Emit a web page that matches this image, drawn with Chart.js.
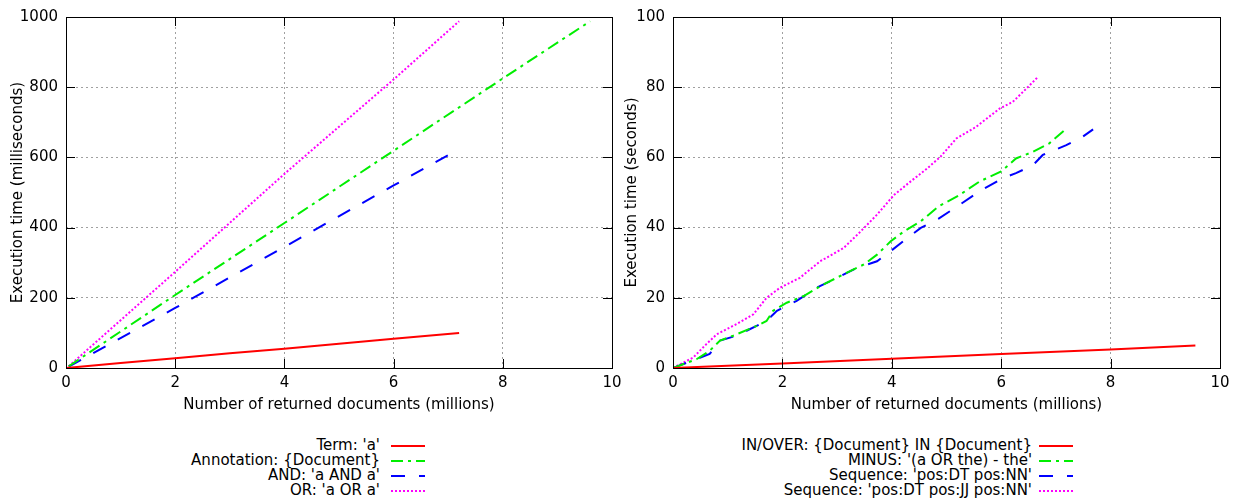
<!DOCTYPE html>
<html>
<head>
<meta charset="utf-8">
<script src="https://cdn.jsdelivr.net/npm/chart.js@4/dist/chart.umd.min.js"></script>
<style>
  body { margin: 0; width: 1237px; height: 503px; background: #fff; position: relative; overflow: hidden;
         font-family: "DejaVu Sans", sans-serif; }
  canvas { position: absolute; top: 0; }
  #c1 { left: 0; }
  #c2 { left: 620px; }
  .lg { position: absolute; font-size: 15px; line-height: 15px; height: 15px; white-space: nowrap; color: #000; text-align: right; }
  .sw { position: absolute; }
</style>
</head>
<body>
<canvas id="c1" width="630" height="420"></canvas>
<canvas id="c2" width="617" height="420"></canvas>
<div id="legendas"></div>
<script>
/* Dois gráficos gnuplot: tempo de execução x documentos retornados. */

// --- gráfico da esquerda (milissegundos) ---
const termX  = [0, 1, 2, 3, 4, 5, 6, 7.2];
const termY  = [0, 14, 28, 42, 55, 69, 83, 100];
const annotX = [0.05, 2, 4, 6, 8, 9.6];
const annotY = [5, 208, 413, 619, 825, 988];
const andX   = [0.05, 2, 4, 6, 7.2];
const andY   = [4, 171, 345, 520, 624];
const orX    = [0.05, 2, 4, 6, 7.2];
const orY    = [5, 274, 553, 822, 988];

// --- gráfico da direita (segundos) ---
const inoverX = [0, 2, 4, 6, 8, 9.55];
const inoverY = [0, 1.3, 2.6, 4.0, 5.3, 6.4];
const minusX = [0, 0.43, 0.67, 0.86, 1.1, 1.53, 1.71, 1.83, 2.08, 2.39, 2.75, 3.12, 3.49, 3.73, 3.98, 4.22, 4.53, 4.85, 5.24, 5.6, 6.0, 6.27, 6.58, 6.88, 7.19];
const minusY = [0, 2.5, 4.9, 7.8, 9.2, 12, 13.4, 16.3, 18.6, 20.5, 23.8, 26.7, 29.5, 32.3, 36.1, 38.9, 41.8, 46, 49.3, 53.1, 56, 59.7, 61.6, 64, 68.2];
const seqX  = [0, 0.67, 0.86, 1.16, 1.71, 1.9, 2.26, 2.63, 3.0, 3.36, 3.73, 3.98, 4.28, 4.53, 4.85, 5.24, 5.6, 6.03, 6.27, 6.58, 6.76, 7.19, 7.49, 7.68];
const seqY  = [0, 4, 7.8, 9.2, 13.4, 16.3, 19.1, 22.9, 25.7, 28.5, 30.4, 33.3, 37, 39.9, 42.5, 46.5, 50.3, 54.1, 55.5, 57.8, 60.7, 63.5, 65.9, 68];
const seq3X = [0, 0.37, 0.61, 0.8, 1.16, 1.47, 1.71, 1.96, 2.32, 2.69, 3.12, 3.43, 3.73, 4.04, 4.34, 4.65, 4.89, 5.18, 5.54, 5.97, 6.21, 6.46, 6.67];
const seq3Y = [0, 3, 6.8, 9.6, 12.5, 15.3, 20, 22.9, 25.7, 30.4, 34.2, 38.9, 43.7, 49.3, 53.1, 56.9, 60.2, 65.4, 68.7, 73.9, 75.8, 79.6, 82.9];

const xTicks = [0, 2, 4, 6, 8, 10];
const labelsEsq = ["Term: 'a'", "Annotation: {Document}", "AND: 'a AND a'", "OR: 'a OR a'"];
const labelsDir = ["IN/OVER: {Document} IN {Document}", "MINUS: '(a OR the) - the'", "Sequence: 'pos:DT pos:NN'", "Sequence: 'pos:DT pos:JJ pos:NN'"];

const estilos = [
  { cor: "#ff0000", dash: [] },
  { cor: "#00ee00", dash: [12, 5, 3, 5] },
  { cor: "#0000ff", dash: [14, 14] },
  { cor: "#ff00ff", dash: [2, 2] },
];

const FONTE = { family: "'DejaVu Sans', sans-serif", size: 15 };

function serie(xs, ys, i) {
  return {
    data: xs.map((x, k) => ({ x, y: ys[k] })),
    showLine: true,
    borderColor: estilos[i].cor,
    borderDash: estilos[i].dash,
    borderWidth: 2,
    pointRadius: 0,
    tension: 0,
  };
}

// moldura preta + ticks para dentro nos quatro lados, como no gnuplot
const moldura = {
  id: "moldura",
  afterDraw(chart) {
    const { ctx, chartArea: a, scales: { x, y } } = chart;
    ctx.save();
    ctx.strokeStyle = "#000";
    ctx.lineWidth = 1;
    ctx.setLineDash([]);
    ctx.beginPath();
    x.ticks.forEach(t => {
      const px = Math.round(x.getPixelForValue(t.value)) + 0.5;
      ctx.moveTo(px, a.bottom); ctx.lineTo(px, a.bottom - 9);
      ctx.moveTo(px, a.top);    ctx.lineTo(px, a.top + 9);
    });
    y.ticks.forEach(t => {
      const py = Math.round(y.getPixelForValue(t.value)) + 0.5;
      ctx.moveTo(a.left, py);  ctx.lineTo(a.left + 9, py);
      ctx.moveTo(a.right, py); ctx.lineTo(a.right - 9, py);
    });
    ctx.stroke();
    ctx.strokeRect(Math.round(a.left) + 0.5, Math.round(a.top) + 0.5,
                   Math.round(a.right - a.left), Math.round(a.bottom - a.top));
    ctx.restore();
  },
};

function grafico(id, datasets, yMax, yPasso, yTitulo, larguraY, padTitulo, padding) {
  const gradeCor = c => (c.tick && (c.tick.value === c.scale.min || c.tick.value === c.scale.max)) ? "rgba(0,0,0,0)" : "#a0a0a0";
  new Chart(document.getElementById(id), {
    type: "scatter",
    data: { datasets },
    options: {
      responsive: false,
      animation: false,
      layout: { padding },
      plugins: { legend: { display: false }, tooltip: { enabled: false } },
      scales: {
        x: {
          type: "linear", min: 0, max: 10,
          afterBuildTicks: s => { s.ticks = xTicks.map(v => ({ value: v })); },
          afterFit: s => { s.height = 52; },
          grid: { color: gradeCor, drawTicks: false, lineWidth: 1 },
          border: { display: false, dash: [2, 3] },
          ticks: { color: "#000", font: FONTE, padding: 6, maxRotation: 0, callback: v => String(v) },
          title: { display: true, text: "Number of returned documents (millions)", color: "#000", font: FONTE, padding: { top: 0, bottom: 6 } },
        },
        y: {
          type: "linear", min: 0, max: yMax,
          ticks: { stepSize: yPasso, color: "#000", font: FONTE, padding: 8, callback: v => String(v) },
          afterFit: s => { s.width = larguraY; },
          grid: { color: gradeCor, drawTicks: false, lineWidth: 1 },
          border: { display: false, dash: [2, 3] },
          title: { display: true, text: yTitulo, color: "#000", font: FONTE, padding: { top: padTitulo, bottom: 0 } },
        },
      },
    },
    plugins: [moldura],
  });
}

grafico("c1", [
  serie(termX, termY, 0),
  serie(annotX, annotY, 1),
  serie(andX, andY, 2),
  serie(orX, orY, 3),
], 1000, 200, "Execution time (milliseconds)", 66, 9, { left: 0, right: 18, top: 16, bottom: 0 });

grafico("c2", [
  serie(inoverX, inoverY, 0),
  serie(minusX, minusY, 1),
  serie(seqX, seqY, 2),
  serie(seq3X, seq3Y, 3),
], 100, 20, "Execution time (seconds)", 53, 3, { left: 0, right: 17, top: 15, bottom: 0 });

// legendas no estilo gnuplot: texto alinhado à direita e amostra da linha depois
function legenda(labels, fimTexto, inicioAmostra) {
  const alvo = document.getElementById("legendas");
  const linhasY = [446, 461, 476, 491];
  labels.forEach((txt, i) => {
    const d = document.createElement("div");
    d.className = "lg";
    d.textContent = txt;
    d.style.right = (1237 - fimTexto) + "px";
    d.style.top = (linhasY[i] - 8) + "px";
    alvo.appendChild(d);

    const c = document.createElement("canvas");
    c.className = "sw";
    c.width = 36; c.height = 6;
    c.style.left = inicioAmostra + "px";
    c.style.top = (linhasY[i] - 3) + "px";
    const g = c.getContext("2d");
    g.strokeStyle = estilos[i].cor;
    g.lineWidth = 2;
    g.setLineDash(estilos[i].dash);
    g.beginPath(); g.moveTo(0, 3); g.lineTo(34, 3); g.stroke();
    alvo.appendChild(c);
  });
}

legenda(labelsEsq, 380, 391);
legenda(labelsDir, 1032, 1039);
</script>
</body>
</html>
